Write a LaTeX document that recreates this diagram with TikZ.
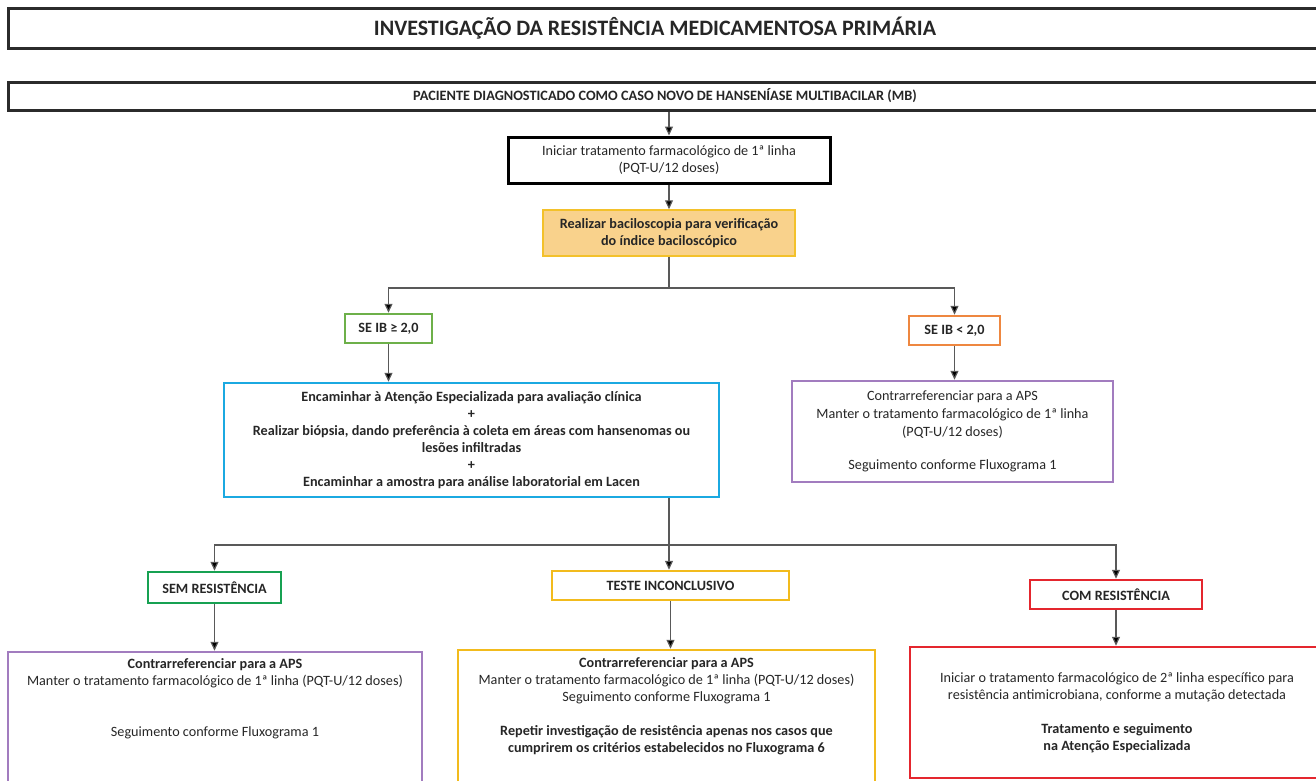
\documentclass[tikz,border=0pt]{standalone}
\usepackage{fontspec}
\setmainfont{Carlito}
\usetikzlibrary{arrows.meta}
\definecolor{tborder}{HTML}{2B2B2B}
\definecolor{lgrey}{HTML}{595959}
\definecolor{ofill}{HTML}{F9D28C}
\definecolor{oborder}{HTML}{F3C12B}
\definecolor{greenA}{HTML}{6DB04A}
\definecolor{orangeB}{HTML}{EE8740}
\definecolor{blueC}{HTML}{1BA9E1}
\definecolor{purpleD}{HTML}{A27CBF}
\definecolor{greenE}{HTML}{17A152}
\definecolor{goldF}{HTML}{F2BB1D}
\definecolor{redG}{HTML}{E4262E}
\definecolor{txt}{HTML}{262626}
\newcommand{\bodyfont}{\fontsize{14.2}{17}\selectfont}
\begin{document}
\begin{tikzpicture}[x=1pt,y=-1pt,
  every node/.style={text=txt},
  box/.style={draw, rectangle, line width=2.5pt, align=center, inner sep=0pt,
    font=\bodyfont},
  bbox/.style={box, font=\bodyfont\bfseries},
  txtnode/.style={align=center, inner sep=0pt, font=\bodyfont},
  arr/.style={draw=lgrey, line width=1.2pt, -{Triangle[length=9pt,width=8pt,fill=black]}},
  ln/.style={draw=lgrey, line width=1.2pt}]
\useasboundingbox (0,0) rectangle (1316,780);
\clip (0,0) rectangle (1316,780);

% title
\node[box, draw=tborder, line width=3pt, minimum width=1314, minimum height=40] (titlebox) at (665,28) {};
\node[txtnode, font=\fontsize{22}{26}\selectfont\bfseries] (title) at (655,28) {INVESTIGAÇÃO DA RESISTÊNCIA MEDICAMENTOSA PRIMÁRIA};

% patient
\node[box, draw=tborder, line width=3pt, minimum width=1314, minimum height=28,
  font=\fontsize{14.3}{17}\selectfont\bfseries] (patient) at (665,96) {PACIENTE DIAGNOSTICADO COMO CASO NOVO DE HANSENÍASE MULTIBACILAR (MB)};

% first line
\node[box, draw=black, line width=3pt, minimum width=322, minimum height=46] (b1) at (669,160)
  {Iniciar tratamento farmacológico de 1ª linha\\(PQT-U/12 doses)};

\node[bbox, draw=oborder, fill=ofill, line width=1.5pt, minimum width=252, minimum height=46] (bac) at (669,233)
  {Realizar baciloscopia para verificação\\do índice baciloscópico};

\node[bbox, draw=greenA, minimum width=87, minimum height=29] (ib1) at (388.5,328.5) {SE IB ≥ 2,0};
\node[bbox, draw=orangeB, minimum width=91, minimum height=29] (ib2) at (954.5,330.5) {SE IB < 2,0};

\node[bbox, draw=blueC, minimum width=495, minimum height=114] (blue) at (471.5,440)
  {Encaminhar à Atenção Especializada para avaliação clínica\\+\\Realizar biópsia, dando preferência à coleta em áreas com hansenomas ou\\lesões infiltradas\\+\\Encaminhar a amostra para análise laboratorial em Lacen};

\node[box, draw=purpleD, minimum width=321, minimum height=101, font=\fontsize{14.2}{18}\selectfont] (pur1) at (952.5,431.5)
  {Contrarreferenciar para a APS\\Manter o tratamento farmacológico de 1ª linha\\(PQT-U/12 doses)\\[15pt]Seguimento conforme Fluxograma 1};

\node[bbox, draw=greenE, minimum width=133, minimum height=31] (sem) at (214.5,587.5) {SEM RESISTÊNCIA};
\node[bbox, draw=goldF, minimum width=237, minimum height=29] (teste) at (670.5,585.5) {TESTE INCONCLUSIVO};
\node[bbox, draw=redG, minimum width=172, minimum height=29] (com) at (1116,594.5) {COM RESISTÊNCIA};

% bottom boxes
\node[box, draw=purpleD, minimum width=414, minimum height=168] (lbox) at (215,736) {};
\node[txtnode, anchor=north] (ltext) at (215,658)
  {\textbf{Contrarreferenciar para a APS}\\Manter o tratamento farmacológico de 1ª linha (PQT-U/12 doses)\\[34pt]Seguimento conforme Fluxograma 1};

\node[box, draw=goldF, minimum width=417, minimum height=170] (mbox) at (666.5,735) {};
\node[txtnode, anchor=north] (mtext) at (666.5,657)
  {\textbf{Contrarreferenciar para a APS}\\Manter o tratamento farmacológico de 1ª linha (PQT-U/12 doses)\\Seguimento conforme Fluxograma 1\\[17pt]\textbf{Repetir investigação de resistência apenas nos casos que}\\\textbf{cumprirem os critérios estabelecidos no Fluxograma 6}};

\node[box, draw=redG, minimum width=414, minimum height=131] (rbox) at (1117,712.5)
  {Iniciar o tratamento farmacológico de 2ª linha específico para\\resistência antimicrobiana, conforme a mutação detectada\\[17pt]\textbf{Tratamento e seguimento}\\\textbf{na Atenção Especializada}};

% connectors
\coordinate (j1) at (669,288);
\coordinate (j2) at (669,545);
\draw[arr] (patient.south -| b1.north) -- (b1.north);
\draw[arr] (b1.south) -- (bac.north);
\draw[ln] (bac.south) -- (j1);
\draw[arr] (j1) -| (ib1.north);
\draw[arr] (j1) -| (ib2.north);
\draw[arr] (ib1.south) -- (ib1.south |- blue.north);
\draw[arr] (ib2.south) -- (ib2.south |- pur1.north);
\draw[ln] (blue.south -| j2) -- (j2);
\draw[arr] (j2) -| (sem.north);
\draw[arr] (j2) -- (j2 |- teste.north);
\draw[arr] (j2) -| (com.north);
\draw[arr] (sem.south) -- (sem.south |- lbox.north);
\draw[arr] (teste.south) -- (teste.south |- mbox.north);
\draw[arr] (com.south) -- (com.south |- rbox.north);
\end{tikzpicture}
\end{document}
